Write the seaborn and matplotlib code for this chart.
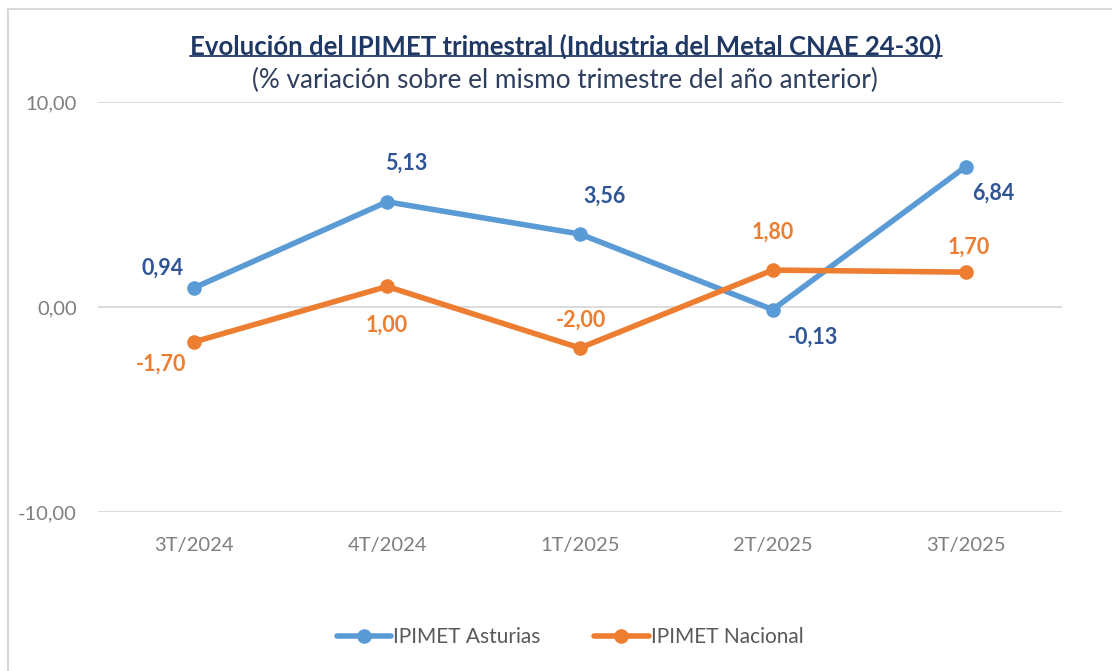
import pandas as pd
import seaborn as sns
import matplotlib.pyplot as plt
from matplotlib.lines import Line2D

# Data
trimestres = ['3T/2024', '4T/2024', '1T/2025', '2T/2025', '3T/2025']
asturias = [0.94, 5.13, 3.56, -0.13, 6.84]
nacional = [-1.70, 1.00, -2.00, 1.80, 1.70]

df = pd.DataFrame({
    'trimestre': trimestres * 2,
    'valor': asturias + nacional,
    'serie': ['IPIMET Asturias'] * 5 + ['IPIMET Nacional'] * 5,
})

sns.set_style("white")
plt.rcParams['font.family'] = ['Lato', 'DejaVu Sans']

azul = '#5B9BD5'
naranja = '#ED7D31'
azul_osc = '#2F5597'

fig = plt.figure(figsize=(11.12, 6.71), dpi=100)
ax = fig.add_axes([0.088, 0.237, 0.867, 0.611])

sns.lineplot(data=df, x='trimestre', y='valor', hue='serie', sort=False,
             palette=[azul, naranja], linewidth=4, marker='o', markersize=10.5,
             markeredgewidth=0, ax=ax, legend=False)

ax.set_xlim(-0.5, 4.5)
ax.set_ylim(-10, 10)
ax.set_yticks([-10, 0, 10])
ax.set_yticklabels(['-10,00', '0,00', '10,00'])
ax.yaxis.grid(True, color='#D9D9D9', linewidth=1.3)
ax.set_xlabel('')
ax.set_ylabel('')
for s in ax.spines.values():
    s.set_visible(False)
ax.tick_params(axis='both', length=0, labelsize=14.5, labelcolor='#7F7F7F')
ax.tick_params(axis='y', pad=15)
ax.tick_params(axis='x', pad=18)

def fmt(v):
    return f'{v:.2f}'.replace('.', ',')

# Etiquetas de datos (desplazamiento en puntos)
off_ast = [(-23, 14), (14, 28), (18, 27), (29, -20), (20, -19)]
off_nac = [(-24, -16), (0, -28), (1, 20), (0, 27), (2, 18)]
for i, v in enumerate(asturias):
    ax.annotate(fmt(v), (i, v), xytext=off_ast[i], textcoords='offset points',
                ha='center', va='center', color=azul_osc, fontsize=15.5,
                fontweight='bold')
for i, v in enumerate(nacional):
    ax.annotate(fmt(v), (i, v), xytext=off_nac[i], textcoords='offset points',
                ha='center', va='center', color=naranja, fontsize=15.5,
                fontweight='bold')

# Titulos
titulo = fig.text(566 / 1112, 1 - 46 / 671,
                  'Evolución del IPIMET trimestral (Industria del Metal CNAE 24-30)',
                  ha='center', va='center', fontsize=18.5, fontweight='bold', color='#1F3864')
fig.text(565 / 1112, 1 - 80 / 671, '(% variación sobre el mismo trimestre del año anterior)',
         ha='center', va='center', fontsize=18.8, color='#2E3E5C')

# Subrayado del titulo
fig.canvas.draw()
bb = titulo.get_window_extent().transformed(fig.transFigure.inverted())
fig.add_artist(Line2D([bb.x0, bb.x1], [bb.y0 + 0.004, bb.y0 + 0.004],
                      color='#1F3864', linewidth=1.3))

# Leyenda
handles = [Line2D([], [], color=azul, lw=4, marker='o', markersize=10.5, markeredgewidth=0),
           Line2D([], [], color=naranja, lw=4, marker='o', markersize=10.5, markeredgewidth=0)]
fig.legend(handles, ['IPIMET Asturias', 'IPIMET Nacional'], loc='center',
           bbox_to_anchor=(570 / 1112, 1 - 637 / 671), ncol=2, frameon=False,
           fontsize=15, labelcolor='#595959', handlelength=2.6, handletextpad=0.1,
           columnspacing=2.6)

# Borde del grafico
fig.add_artist(Line2D([8 / 1112, 8 / 1112], [0, 1 - 9 / 671], color='#D9D9D9', lw=1.5))
fig.add_artist(Line2D([8 / 1112, 1], [1 - 9 / 671, 1 - 9 / 671], color='#D9D9D9', lw=1.5))

fig.savefig('out.png', dpi=100)
